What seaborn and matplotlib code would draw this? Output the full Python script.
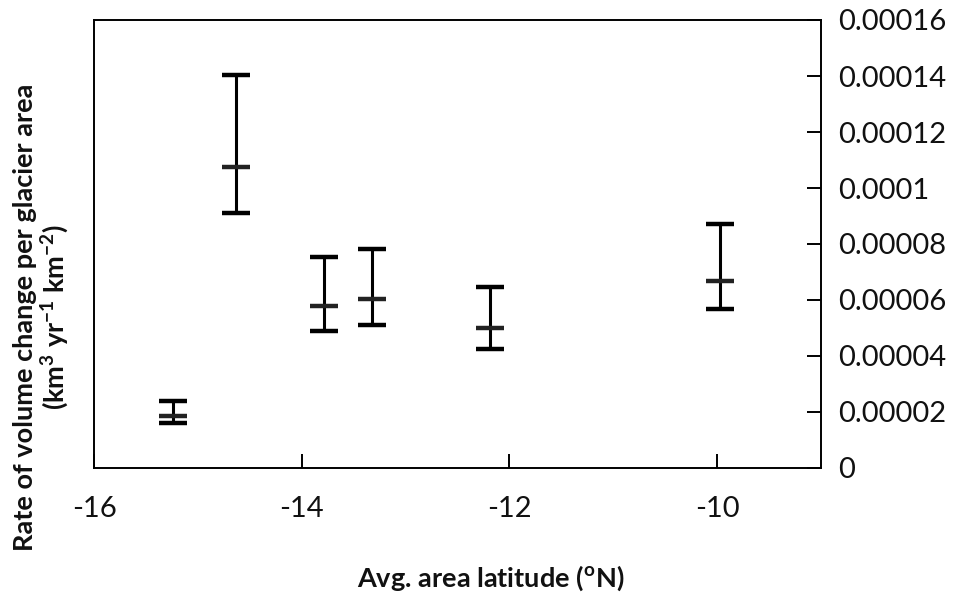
import matplotlib
matplotlib.use("Agg")
import matplotlib.pyplot as plt
import seaborn as sns
import numpy as np
import pandas as pd

# Average area latitude (°N) and rate of volume change per glacier area
latitude = [-15.24, -14.63, -13.79, -13.32, -12.19, -9.97]
rate = [1.86e-5, 1.074e-4, 5.79e-5, 6.03e-5, 4.99e-5, 6.69e-5]
rate_upper = [2.40e-5, 1.402e-4, 7.55e-5, 7.83e-5, 6.48e-5, 8.71e-5]
rate_lower = [1.59e-5, 9.11e-5, 4.90e-5, 5.11e-5, 4.24e-5, 5.67e-5]

x_ticks = [-16, -14, -12, -10]
y_ticks = [0, 0.00002, 0.00004, 0.00006, 0.00008, 0.0001, 0.00012, 0.00014, 0.00016]
y_tick_labels = ["0", "0.00002", "0.00004", "0.00006", "0.00008", "0.0001",
                 "0.00012", "0.00014", "0.00016"]

df = pd.DataFrame({"lat": latitude, "rate": rate,
                   "hi": rate_upper, "lo": rate_lower})

sns.set_theme(style="white")
plt.rcParams["font.family"] = ["Lato", "DejaVu Sans"]
plt.rcParams["mathtext.fontset"] = "custom"
plt.rcParams["mathtext.rm"] = "Lato"
plt.rcParams["mathtext.bf"] = "Lato:bold"

fig = plt.figure(figsize=(9.63, 5.94), dpi=100)
ax = fig.add_axes([94 / 963, 126 / 594, (821 - 94) / 963, (574 - 126) / 594])

err = np.vstack([df["rate"] - df["lo"], df["hi"] - df["rate"]])
ax.errorbar(df["lat"], df["rate"], yerr=err, fmt="none", ecolor="black",
            elinewidth=2.2, capsize=10, capthick=3.2, zorder=2)
sns.scatterplot(data=df, x="lat", y="rate", marker="_", s=420,
                color="#222222", linewidth=3.2, ax=ax, zorder=3, legend=False)

ax.set_xlim(-16, -9)
ax.set_ylim(0, 0.00016)
ax.set_xticks(x_ticks)
ax.set_xticklabels([f"{t}" for t in x_ticks])
ax.yaxis.tick_right()
ax.set_yticks(y_ticks)
ax.set_yticklabels(y_tick_labels)

for s in ax.spines.values():
    s.set_visible(True)
    s.set_color("black")
    s.set_linewidth(1.4)

ax.tick_params(axis="x", direction="in", length=10, width=1.4,
               labelsize=21, pad=20, colors="black", bottom=True)
ax.tick_params(axis="y", direction="in", length=10, width=1.4,
               labelsize=21, pad=12, colors="black", right=True, left=False)
for lab in ax.get_xticklabels() + ax.get_yticklabels():
    lab.set_color("#111111")

ax.set_xlabel("")
ax.set_ylabel("")
fig.text(491 / 963, 1 - 578 / 594, r"Avg. area latitude ($^{\mathbf{o}}$N)",
         fontsize=19.5, fontweight="bold", ha="center", va="center",
         color="#111111")
fig.text(42 / 963, 1 - 317 / 594,
         "Rate of volume change per glacier area\n"
         r"(km$^{\mathbf{3}}$ yr$^{\mathbf{-1}}$ km$^{\mathbf{-2}}$)",
         fontsize=19.5, fontweight="bold", rotation=90, ha="center",
         va="center", multialignment="center", linespacing=1.05,
         color="#111111")

fig.savefig("out.png", dpi=100, facecolor="white")
